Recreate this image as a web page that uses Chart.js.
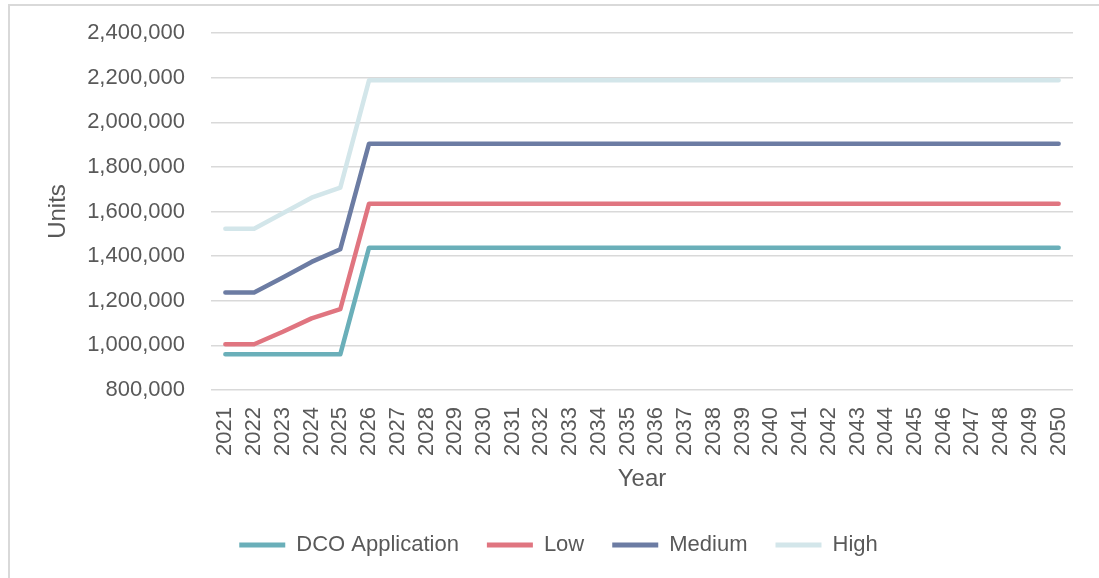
<!DOCTYPE html>
<html>
<head>
<meta charset="utf-8">
<script src="https://cdn.jsdelivr.net/npm/chart.js@4.4.1/dist/chart.umd.min.js"></script>
<style>
  html, body { margin: 0; padding: 0; background: #ffffff; }
  body { width: 1099px; height: 578px; position: relative; overflow: hidden; }
  #frame { position: absolute; left: 8px; top: 4px; right: 0; bottom: 0;
           border-left: 2px solid #d9d9d9; border-top: 2px solid #d9d9d9; }
  #chart { position: absolute; left: 0; top: 0; }
</style>
</head>
<body>
<div id="frame"></div>
<canvas id="chart" width="1099" height="578"></canvas>
<script>
// Years on the horizontal axis
const years = [];
for (let y = 2021; y <= 2050; y++) years.push(String(y));

// Storage capacity (units) per scenario
const dcoApplication = [960000, 960000, 960000, 960000, 960000,
  1438000, 1438000, 1438000, 1438000, 1438000, 1438000, 1438000, 1438000, 1438000, 1438000,
  1438000, 1438000, 1438000, 1438000, 1438000, 1438000, 1438000, 1438000, 1438000, 1438000,
  1438000, 1438000, 1438000, 1438000, 1438000];
const low = [1005000, 1005000, 1061000, 1121000, 1162000,
  1635000, 1635000, 1635000, 1635000, 1635000, 1635000, 1635000, 1635000, 1635000, 1635000,
  1635000, 1635000, 1635000, 1635000, 1635000, 1635000, 1635000, 1635000, 1635000, 1635000,
  1635000, 1635000, 1635000, 1635000, 1635000];
const medium = [1237000, 1237000, 1304000, 1374000, 1431000,
  1904000, 1904000, 1904000, 1904000, 1904000, 1904000, 1904000, 1904000, 1904000, 1904000,
  1904000, 1904000, 1904000, 1904000, 1904000, 1904000, 1904000, 1904000, 1904000, 1904000,
  1904000, 1904000, 1904000, 1904000, 1904000];
const high = [1523000, 1523000, 1592000, 1662000, 1707000,
  2188000, 2188000, 2188000, 2188000, 2188000, 2188000, 2188000, 2188000, 2188000, 2188000,
  2188000, 2188000, 2188000, 2188000, 2188000, 2188000, 2188000, 2188000, 2188000, 2188000,
  2188000, 2188000, 2188000, 2188000, 2188000];

const seriesNames = ['DCO Application', 'Low', 'Medium', 'High'];
const seriesColors = ['#6aafb9', '#e07580', '#6c7ca3', '#d3e6ea'];
const seriesValues = [dcoApplication, low, medium, high];

// Value axis range
const yMin = 800000, yMax = 2400000, yStep = 200000;

const textColor = '#595959';
const fontFamily = '"Liberation Sans", Arial, sans-serif';

new Chart(document.getElementById('chart'), {
  type: 'line',
  data: {
    labels: years,
    datasets: seriesNames.map((name, i) => ({
      label: name,
      data: seriesValues[i],
      borderColor: seriesColors[i],
      backgroundColor: seriesColors[i],
      borderWidth: 4.5,
      pointRadius: 0,
      tension: 0,
      borderCapStyle: 'round',
      borderJoinStyle: 'round',
      fill: false
    }))
  },
  options: {
    responsive: false,
    animation: false,
    devicePixelRatio: 1,
    layout: { padding: { left: 44, right: 26, top: 33, bottom: 12 } },
    plugins: {
      tooltip: { enabled: false },
      legend: {
        position: 'bottom',
        labels: {
          color: textColor,
          font: { family: fontFamily, size: 22 },
          boxWidth: 46,
          boxHeight: 5,
          padding: 28,
          generateLabels: (chart) => chart.data.datasets.map((ds, i) => ({
            text: ds.label,
            fillStyle: ds.borderColor,
            strokeStyle: ds.borderColor,
            lineWidth: 0,
            fontColor: textColor,
            datasetIndex: i
          }))
        }
      }
    },
    scales: {
      x: {
        offset: true,
        grid: { display: false },
        border: { display: false },
        ticks: {
          color: textColor,
          font: { family: fontFamily, size: 22 },
          minRotation: 90,
          maxRotation: 90,
          autoSkip: false,
          padding: 9
        },
        title: {
          display: true,
          text: 'Year',
          color: textColor,
          font: { family: fontFamily, size: 24 },
          padding: { top: 6, bottom: 12 }
        },
        // fixed band under the plot for year labels and axis title
        afterFit: (scale) => {
          scale.height = 116;
          scale.paddingLeft = 0;
          scale.paddingRight = 0;
        }
      },
      y: {
        min: yMin,
        max: yMax,
        grid: { color: '#d9d9d9', lineWidth: 1.5, drawTicks: false },
        border: { display: false },
        ticks: {
          stepSize: yStep,
          color: textColor,
          font: { family: fontFamily, size: 22 },
          padding: 26,
          callback: (v) => v.toLocaleString('en-US')
        },
        title: {
          display: true,
          text: 'Units',
          color: textColor,
          font: { family: fontFamily, size: 24 },
          padding: { top: 0, bottom: 6 }
        },
        afterFit: (scale) => {
          scale.width = 211 - 44;
          scale.paddingTop = 0;
          scale.paddingBottom = 0;
        }
      }
    }
  }
});
</script>
</body>
</html>
